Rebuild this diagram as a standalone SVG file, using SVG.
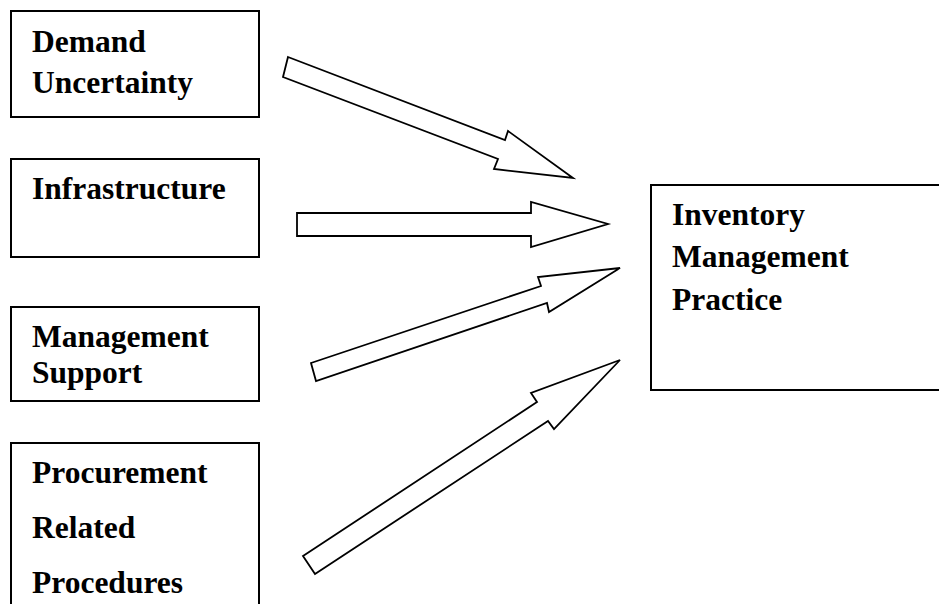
<svg xmlns="http://www.w3.org/2000/svg" width="939" height="604" viewBox="0 0 939 604">
<style>
.box{fill:#fff;stroke:#000;stroke-width:2}
.arr{fill:#fff;stroke:#000;stroke-width:1.8;stroke-linejoin:miter}
text{font-family:"Liberation Serif","Times New Roman",serif;font-weight:bold;font-size:31.5px;fill:#000}
</style>
<rect width="939" height="604" fill="#fff"/>
<g id="demand">
<rect class="box" x="11" y="11" width="248" height="106"/>
<text x="32" y="52">Demand</text>
<text x="32" y="93">Uncertainty</text>
</g>
<g id="infrastructure">
<rect class="box" x="11" y="159" width="248" height="98"/>
<text x="32" y="199">Infrastructure</text>
</g>
<g id="management">
<rect class="box" x="11" y="307" width="248" height="94"/>
<text x="32" y="347">Management</text>
<text x="32" y="383">Support</text>
</g>
<g id="procurement">
<rect class="box" x="11" y="443" width="248" height="175"/>
<text x="32" y="483">Procurement</text>
<text x="32" y="538">Related</text>
<text x="32" y="593">Procedures</text>
</g>
<g id="inventory">
<rect class="box" x="651" y="185" width="300" height="205"/>
<text x="672" y="225">Inventory</text>
<text x="672" y="267">Management</text>
<text x="672" y="310">Practice</text>
</g>
<g id="connectors">
<polygon class="arr" points="288,57 505,140 508,131 573,178 494,169 498,159 283,77"/>
<polygon class="arr" points="297,213 531,213 531,202 608,224 531,247 531,236 297,236"/>
<polygon class="arr" points="311,363 541,286 538,277 620,268 549,312 547,303 316,381"/>
<polygon class="arr" points="303,556 537,402 531,393 620,360 554,429 548,421 315,574"/>
</g>
</svg>
